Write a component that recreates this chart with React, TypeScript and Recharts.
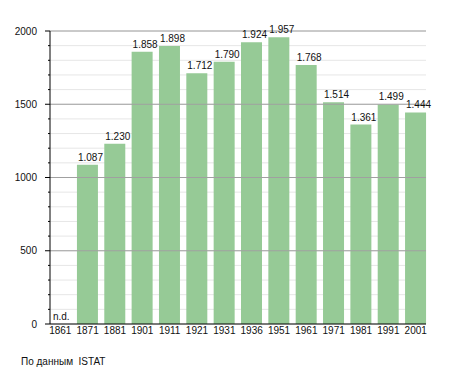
import { Bar, BarChart, CartesianGrid, LabelList, ReferenceDot, ReferenceLine, XAxis, YAxis } from "recharts";

const years = ["1861", "1871", "1881", "1901", "1911", "1921", "1931", "1936", "1951", "1961", "1971", "1981", "1991", "2001"];
const population = [null, 1087, 1230, 1858, 1898, 1712, 1790, 1924, 1957, 1768, 1514, 1361, 1499, 1444];
const yTicks = Array.from({ length: 21 }, (_, i) => i * 100);
const majorTicks = [500, 1000, 1500, 2000];

const data = years.map((year, i) => ({ year, value: population[i] }));

const font = "'Liberation Sans', Arial, sans-serif";

const fmt = (v: number) => {
  const s = String(v);
  return s.length > 3 ? s.slice(0, s.length - 3) + "." + s.slice(-3) : s;
};

const YTick = (props: any) => {
  const { x, y, payload } = props;
  const major = payload.value % 500 === 0;
  return (
    <g>
      <line x1={x - (major ? 5 : 2)} x2={x} y1={y} y2={y} stroke="#000" />
      {major && (
        <text x={x - 13} y={y} dy="0.35em" textAnchor="end" fontSize={10} fontFamily={font} fill="#111">
          {payload.value}
        </text>
      )}
    </g>
  );
};

const ValueLabel = (props: any) => {
  const { x, y, width, value } = props;
  if (value == null) return null;
  return (
    <text x={x + width / 2 + 3} y={y - 4} textAnchor="middle" fontSize={10} fontFamily={font} fill="#111">
      {fmt(value)}
    </text>
  );
};

const NdLabel = (props: any) => (
  <text x={props.cx + 1} y={props.cy - 4} textAnchor="middle" fontSize={10} fontFamily={font} fill="#111">
    n.d.
  </text>
);

const App = () => {
  return (
    <div style={{ position: "absolute", left: 0, top: 0, width: 455, height: 373 }}>
      <BarChart
        width={455}
        height={373}
        data={data}
        margin={{ top: 31, right: 29, bottom: 29, left: 0 }}
      >
        <CartesianGrid vertical={false} stroke="#e6e6e6" />
        {majorTicks.map((t) => (
          <ReferenceLine key={t} y={t} stroke="#a0a0a0" />
        ))}
        <XAxis
          dataKey="year"
          height={20}
          tickSize={0}
          tickMargin={3}
          interval={0}
          padding={{ left: -3.4, right: -3.4 }}
          axisLine={{ stroke: "#000" }}
          tick={{ fontSize: 10, fontFamily: font, fill: "#111" }}
        />
        <YAxis
          width={50}
          domain={[0, 2000]}
          ticks={yTicks}
          interval={0}
          tickSize={0}
          tickMargin={0}
          axisLine={{ stroke: "#000" }}
          tick={<YTick />}
        />
        <Bar dataKey="value" fill="#96ca96" barSize={21} isAnimationActive={false}>
          <LabelList dataKey="value" content={<ValueLabel />} />
        </Bar>
        <ReferenceDot x="1861" y={0} r={0} shape={<NdLabel />} />
      </BarChart>
      <div
        style={{
          position: "absolute",
          left: 21,
          top: 356,
          fontSize: 10,
          lineHeight: "12px",
          fontFamily: font,
          color: "#111",
          whiteSpace: "pre",
        }}
      >
        По данным  ISTAT
      </div>
    </div>
  );
};

export default App;
